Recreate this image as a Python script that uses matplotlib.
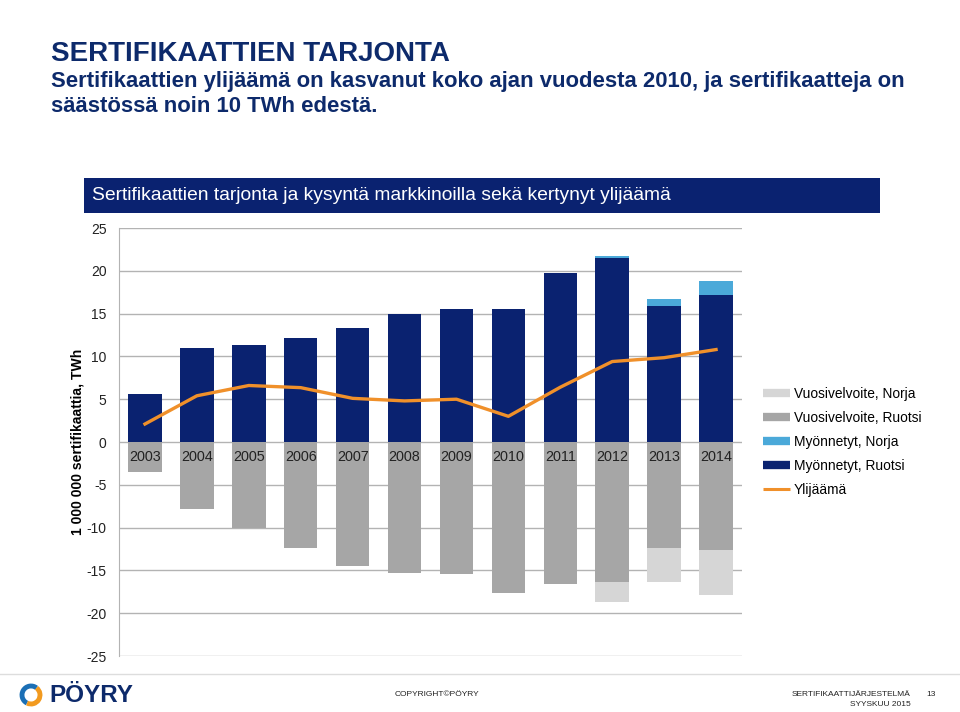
import numpy as np
import matplotlib
matplotlib.use("Agg")
import matplotlib.pyplot as plt
from matplotlib.lines import Line2D
from matplotlib.patches import Rectangle, Arc

plt.rcParams["font.family"] = ["Liberation Sans", "DejaVu Sans"]
plt.rcParams["axes.unicode_minus"] = False

vuodet = ["2003", "2004", "2005", "2006", "2007", "2008", "2009", "2010", "2011", "2012", "2013", "2014"]
myonnetyt_ruotsi = [5.6, 11.0, 11.3, 12.15, 13.3, 15.0, 15.5, 15.5, 19.8, 21.5, 15.85, 17.2]
myonnetyt_norja = [0, 0, 0, 0, 0, 0, 0, 0, 0, 0.2, 0.85, 1.6]
vuosivelvoite_ruotsi = [-3.5, -7.8, -10.1, -12.4, -14.5, -15.3, -15.4, -17.6, -16.55, -16.35, -12.35, -12.6]
vuosivelvoite_norja = [0, 0, 0, 0, 0, 0, 0, 0, 0, -2.35, -3.95, -5.25]
ylijaama = [2.1, 5.4, 6.6, 6.35, 5.1, 4.8, 5.0, 3.0, 6.4, 9.4, 9.85, 10.8]

navy = "#0a2270"
sininen = "#4ba9d9"
harmaa = "#a6a6a6"
vaalea = "#d6d6d6"
oranssi = "#f0902a"
otsikko_vari = "#0d2a6b"

W, H = 960, 712
fig = plt.figure(figsize=(9.6, 7.12), dpi=100)

def fx(x):
    return x / W

def fy(y):
    return 1 - y / H

# otsikot
fig.text(fx(51), fy(54), "SERTIFIKAATTIEN TARJONTA", fontsize=20, fontweight="bold",
         color=otsikko_vari, va="center", ha="left")
fig.text(fx(51), fy(81), "Sertifikaattien ylijäämä on kasvanut koko ajan vuodesta 2010, ja sertifikaatteja on",
         fontsize=15.9, fontweight="bold", color=otsikko_vari, va="center", ha="left")
fig.text(fx(51), fy(106), "säästössä noin 10 TWh edestä.",
         fontsize=15.9, fontweight="bold", color=otsikko_vari, va="center", ha="left")

# kaavion otsikkolaatikko
fig.patches.append(Rectangle((fx(84), fy(213)), fx(880) - fx(84), fy(178) - fy(213),
                             transform=fig.transFigure, facecolor=navy, edgecolor="none"))
fig.text(fx(92), fy(195), "Sertifikaattien tarjonta ja kysyntä markkinoilla sekä kertynyt ylijäämä",
         fontsize=13.9, color="white", va="center", ha="left")

ax = fig.add_axes([fx(119), fy(656), fx(742) - fx(119), fy(228) - fy(656)])
x = np.arange(len(vuodet))
leveys = 0.645

ax.bar(x, myonnetyt_ruotsi, leveys, color=navy, zorder=2)
ax.bar(x, myonnetyt_norja, leveys, bottom=myonnetyt_ruotsi, color=sininen, zorder=2)
ax.bar(x, vuosivelvoite_ruotsi, leveys, color=harmaa, zorder=2)
ax.bar(x, vuosivelvoite_norja, leveys, bottom=vuosivelvoite_ruotsi, color=vaalea, zorder=2)
ax.plot(x, ylijaama, color=oranssi, lw=2.4, zorder=4, solid_joinstyle="round")

for i, v in enumerate(vuodet):
    ax.text(i, -1.75, v, ha="center", va="center", fontsize=10.4, color="#222222", zorder=5)

ax.set_xlim(-0.5, 11.5)
ax.set_ylim(-25, 25)
ax.set_yticks(np.arange(-25, 26, 5))
ax.set_xticks([])
ax.yaxis.grid(True, color="#b3b3b3", lw=1, zorder=0)
ax.set_axisbelow(True)
for s in ["top", "right", "bottom"]:
    ax.spines[s].set_visible(False)
ax.spines["left"].set_color("#b3b3b3")
ax.tick_params(axis="y", length=0, pad=9, labelsize=10, labelcolor="#222222")
ax.set_ylabel("1 000 000 sertifikaattia, TWh", fontsize=10.1, fontweight="bold", labelpad=1)

kahvat = [
    Line2D([], [], color=vaalea, lw=6, solid_capstyle="butt"),
    Line2D([], [], color=harmaa, lw=6, solid_capstyle="butt"),
    Line2D([], [], color=sininen, lw=6, solid_capstyle="butt"),
    Line2D([], [], color=navy, lw=6, solid_capstyle="butt"),
    Line2D([], [], color=oranssi, lw=2.2, solid_capstyle="butt"),
]
nimet = ["Vuosivelvoite, Norja", "Vuosivelvoite, Ruotsi", "Myönnetyt, Norja", "Myönnetyt, Ruotsi", "Ylijäämä"]
fig.legend(kahvat, nimet, loc="upper left", bbox_to_anchor=(fx(763), fy(387)), frameon=False,
           fontsize=9.9, handlelength=1.95, handletextpad=0.3, labelspacing=0.72, borderaxespad=0,
           borderpad=0)

# alatunniste
fig.add_artist(Line2D([fx(0), fx(960)], [fy(674), fy(674)], transform=fig.transFigure,
                      color="#dddddd", lw=1))
fig.patches.append(Arc((fx(31), fy(695)), 18 / W, 18 / H, theta1=60, theta2=250,
                       transform=fig.transFigure, color="#1b6fb5", lw=3.5))
fig.patches.append(Arc((fx(31), fy(695)), 18 / W, 18 / H, theta1=250, theta2=420,
                       transform=fig.transFigure, color="#f29a1f", lw=3.5))
fig.text(fx(49), fy(695), "PÖYRY", fontsize=17.5, fontweight="bold", color=otsikko_vari,
         va="center", ha="left")
fig.text(fx(395), fy(695), "COPYRIGHT©PÖYRY", fontsize=6, color="#222222", va="center", ha="left")
fig.text(fx(911), fy(695), "SERTIFIKAATTIJÄRJESTELMÄ", fontsize=6, color="#222222", va="center", ha="right")
fig.text(fx(911), fy(705), "SYYSKUU 2015", fontsize=6, color="#222222", va="center", ha="right")
fig.text(fx(926), fy(695), "13", fontsize=6, color="#222222", va="center", ha="left")

fig.savefig("out.png", dpi=100)
